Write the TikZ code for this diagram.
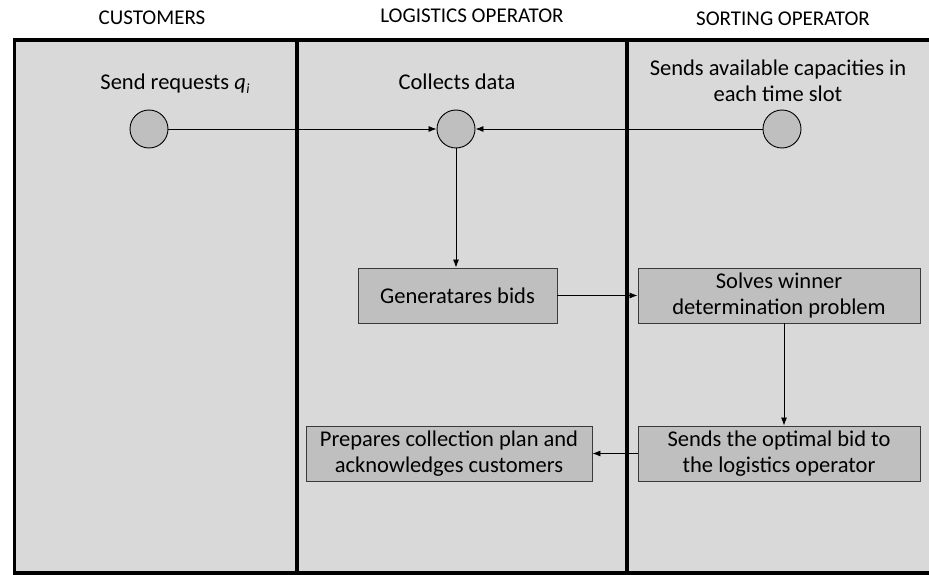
\documentclass[tikz,border=0pt]{standalone}
\usepackage{fontspec}
\setmainfont{Carlito}
\usetikzlibrary{arrows.meta}
\definecolor{lanefill}{HTML}{D9D9D9}
\definecolor{boxfill}{HTML}{BFBFBF}
\definecolor{boxline}{HTML}{3A3A3A}
\begin{document}
\begin{tikzpicture}[x=1pt,y=-1pt,
  txt/.style={font=\fontsize{22.5}{26}\selectfont, inner sep=0pt, align=center},
  hdr/.style={font=\fontsize{21}{24}\selectfont, inner sep=0pt, anchor=base},
  dot/.style={circle, draw=black, line width=0.9pt, fill=boxfill, minimum size=38pt, inner sep=0pt},
  stepbox/.style={draw=boxline, line width=0.9pt, fill=boxfill, inner sep=0pt, align=center,
     font=\fontsize{22.5}{26}\selectfont},
  arr/.style={draw=black, line width=0.8pt, -{Latex[length=8pt,width=6pt]}},
  lane/.style={draw=black, line width=3.2pt}
]
\useasboundingbox (0,0) rectangle (929,575);
\fill[white] (0,0) rectangle (929,575);
% lanes
\fill[lanefill] (14.5,40) rectangle (940,573);
\draw[lane] (940,40) -- (14.5,40) -- (14.5,573) -- (940,573);
\draw[lane] (297,40) -- (297,573);
\draw[lane] (627,40) -- (627,573);
% headers
\node[hdr] (h1) at (152,25) {CUSTOMERS};
\node[hdr] (h2) at (472,23) {LOGISTICS OPERATOR};
\node[hdr] (h3) at (783,26) {SORTING OPERATOR};
% circle labels
\node[txt, anchor=base] (l1) at (175,90) {Send requests \textit{q}\kern0.5pt\raisebox{-4pt}{\fontsize{14}{14}\selectfont\itshape i}};
\node[txt, anchor=base] (l2) at (457,90) {Collects data};
\node[txt, anchor=base] (l3a) at (778,76) {Sends available capacities in};
\node[txt, anchor=base] (l3b) at (778,102) {each time slot};
% circles
\node[dot] (c1) at (149,129) {};
\node[dot] (c2) at (456,129) {};
\node[dot] (c3) at (782,129) {};
% boxes
\node[stepbox, minimum width=199pt, minimum height=55pt] (gen) at (457.5,295.5) {Generatares bids};
\node[stepbox, minimum width=282pt, minimum height=55pt] (solve) at (779,295.5) {Solves winner\\determination problem};
\node[stepbox, minimum width=282pt, minimum height=55pt] (send) at (779,453.5) {Sends the optimal bid to\\the logistics operator};
\node[stepbox, minimum width=286pt, minimum height=55pt] (prep) at (449,453.5) {Prepares collection plan and\\acknowledges customers};
% connectors
\draw[arr] (c1) -- (c2);
\draw[arr] (c3) -- (c2);
\draw[arr] (c2.south) -- (c2.south |- gen.north);
\draw[arr] (gen.east) -- (solve.west);
\draw[arr] ([xshift=5pt]solve.south) -- ([xshift=5pt]send.north);
\draw[arr] (send.west) -- (prep.east);
\end{tikzpicture}
\end{document}
